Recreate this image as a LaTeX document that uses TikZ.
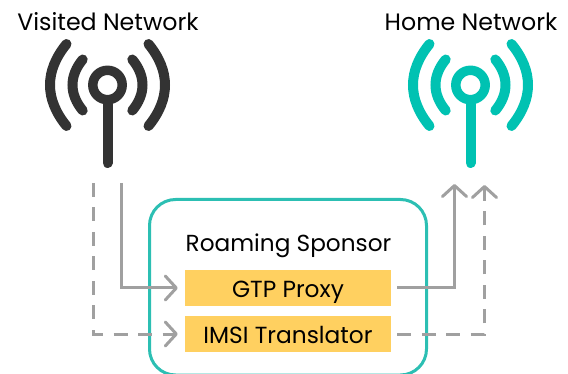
\documentclass[tikz,border=0pt]{standalone}
\usepackage{fontspec}
\setmainfont{Poppins}
\usetikzlibrary{arrows.meta}
\definecolor{dk}{HTML}{333333}
\definecolor{tl}{HTML}{00C2B2}
\definecolor{bd}{HTML}{2CBFB3}
\definecolor{yl}{HTML}{FFD060}
\definecolor{gy}{HTML}{A0A0A0}
\tikzset{
 x=1pt,y=-1pt,
 lab/.style={font=\fontsize{23.7}{26}\selectfont,text=black,inner sep=0pt,anchor=base},
 ybox/.style={fill=yl,minimum width=206pt,minimum height=36pt,inner sep=0pt,text height=22pt,text depth=2pt,font=\fontsize{23.3}{26}\selectfont},
 conn/.style={draw=gy,line width=3pt},
 tip/.style={-{Straight Barb[length=11pt,width=24pt,line width=3pt,round]}},
 dsh/.style={dash pattern=on 14pt off 10.5pt},
 ant/.style={line width=10pt,line cap=round},
}
\newcommand{\antenna}[2]{%
 \begin{scope}[shift={(#1,85)},ant]
  \draw[draw=#2,line width=9.5pt] (0,0) circle[radius=14.7];
  \draw[draw=#2] (0,19) -- (0,78);
  \draw[draw=#2] (-24.8,-25.5) .. controls (-38.4,-9) and (-38.4,9) .. (-24.8,25.5);
  \draw[draw=#2] (24.8,-25.5) .. controls (38.4,-9) and (38.4,9) .. (24.8,25.5);
  \draw[draw=#2] (-41,-41) .. controls (-63,-14) and (-63,14) .. (-41,41);
  \draw[draw=#2] (41,-41) .. controls (63,-14) and (63,14) .. (41,41);
 \end{scope}}
\begin{document}
\begin{tikzpicture}
\useasboundingbox (0,0) rectangle (568,374);
\clip (0,0) rectangle (568,374);
\node[lab] (vn) at (108,31) {Visited Network};
\node[lab] (hn) at (471,31) {Home Network};
\antenna{107.5}{dk}
\antenna{470.5}{tl}
\draw[bd,line width=3pt,rounded corners=26pt] (149.5,199.5) rectangle (426.5,375);
\node[lab,font=\fontsize{23.2}{26}\selectfont] (rs) at (288.5,252) {Roaming Sponsor};
\node[ybox] (gtp) at (288,288) {GTP Proxy};
\node[ybox] (imsi) at (288,334) {IMSI Translator};
\coordinate (a1) at (121,183);
\coordinate (a2) at (93,183);
\coordinate (b1) at (454.5,184);
\coordinate (b2) at (484.5,185);
\draw[conn,tip] (a1) |- ([xshift=-7pt]gtp.west);
\draw[conn,tip,dsh] (a2) |- ([xshift=-7pt]imsi.west);
\draw[conn,tip] ([xshift=6pt]gtp.east) -| (b1);
\draw[conn,tip,dsh] ([xshift=6pt]imsi.east) -| (b2);
\end{tikzpicture}
\end{document}
